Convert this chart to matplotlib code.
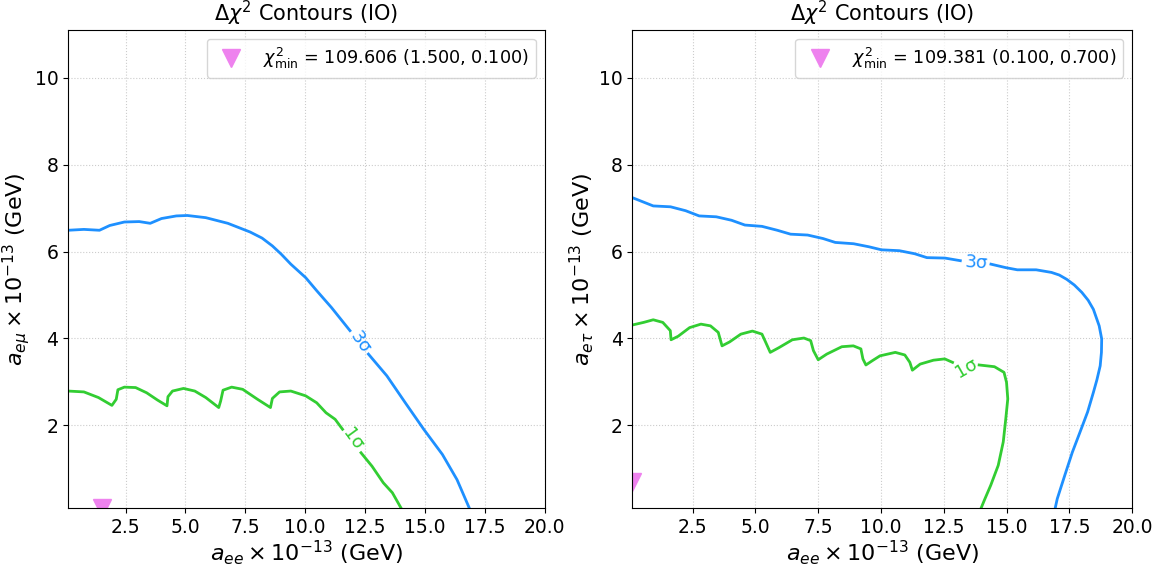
import numpy as np
import matplotlib
matplotlib.use("Agg")
import matplotlib.pyplot as plt

nan = np.nan
# ---------------- data (left panel: a_emu vs a_ee) ----------------
L3_x = [0.1, 0.76, 1.41, 1.84, 2.45, 3.07, 3.53, 4.0, 4.62, 5.08, 5.85, 6.77, 7.7, 8.2, 8.63, 9.0, 9.4, 10.02,
        10.48, 11.1, 11.87, nan, 12.64, 13.41, 14.18, 14.95, 15.73, 16.34, 16.85]
L3_y = [6.49, 6.51, 6.49, 6.6, 6.68, 6.69, 6.65, 6.76, 6.82, 6.83, 6.78, 6.65, 6.45, 6.31, 6.13, 5.94, 5.71, 5.4,
        5.1, 4.71, 4.18, nan, 3.64, 3.14, 2.52, 1.91, 1.33, 0.75, 0.1]
L1_x = [0.1, 0.76, 1.37, 1.93, 2.11, 2.18, 2.45, 2.92, 3.38, 3.84, 4.23, 4.27, 4.46, 4.92, 5.39, 5.85,
        6.39, 6.47, 6.57, 6.93, 7.39, 8.01, 8.55, 8.63, 8.93, 9.4, 10.02, 10.48, 10.87, 11.25, 11.56,
        nan, 12.33, 12.79, 13.26, 13.64, 14.0]
L1_y = [2.79, 2.77, 2.64, 2.46, 2.6, 2.82, 2.88, 2.87, 2.75, 2.58, 2.45, 2.66, 2.79, 2.85, 2.79, 2.64,
        2.41, 2.56, 2.81, 2.88, 2.83, 2.6, 2.41, 2.62, 2.77, 2.79, 2.68, 2.52, 2.29, 2.14, 1.91,
        nan, 1.37, 1.06, 0.68, 0.45, 0.1]
L_best = (1.5, 0.1)
L_chi2 = 109.606

# ---------------- data (right panel: a_etau vs a_ee) ----------------
R3_x = [0.1, 0.93, 1.62, 2.22, 2.76, 3.44, 4.05, 4.58, 5.26, 5.87, 6.4, 7.08, 7.69, 8.18, 8.91, 9.52,
        10.02, 10.73, 11.34, 11.83, 12.55, 13.16, nan, 14.38, 14.97, 15.43, 16.18, 16.79, 17.1, 17.4, 17.7, 18.0,
        18.25, 18.46, 18.69, 18.79, 18.78, 18.73, 18.6, 18.46, 18.23, 17.93, 17.62, 17.32, 17.02, 16.94]
R3_y = [7.24, 7.05, 7.03, 6.94, 6.82, 6.8, 6.72, 6.61, 6.58, 6.49, 6.4, 6.38, 6.3, 6.21, 6.18, 6.11,
        6.04, 6.02, 5.95, 5.86, 5.85, 5.79, nan, 5.71, 5.63, 5.58, 5.58, 5.52, 5.46, 5.36, 5.23, 5.06,
        4.88, 4.67, 4.29, 3.99, 3.68, 3.37, 3.05, 2.76, 2.31, 1.85, 1.38, 0.85, 0.31, 0.1]
R1_x = [0.1, 0.55, 0.93, 1.31, 1.61, 1.64, 1.92, 2.38, 2.83, 3.21, 3.52, 3.67, 3.97, 4.42, 4.88, 5.26,
        5.41, 5.59, 5.94, 6.47, 6.93, 7.2, 7.31, 7.5, 7.84, 8.44, 8.9, 9.2, 9.28, 9.4, 9.66, 9.96,
        10.57, 10.95, 11.15, 11.25, 11.56, 12.09, 12.54, 12.85, nan, 13.91, 14.52, 14.9, 15.0, 15.05,
        14.97, 14.87, 14.67, 14.37, 14.14, 13.99]
R1_y = [4.31, 4.37, 4.43, 4.37, 4.18, 3.97, 4.05, 4.25, 4.33, 4.29, 4.14, 3.83, 3.92, 4.1, 4.17, 4.1,
        3.91, 3.68, 3.79, 3.97, 4.01, 3.95, 3.72, 3.51, 3.64, 3.81, 3.83, 3.76, 3.53, 3.39, 3.49, 3.6,
        3.68, 3.62, 3.45, 3.27, 3.41, 3.5, 3.53, 3.45, nan, 3.39, 3.35, 3.22, 2.99, 2.61,
        2.15, 1.62, 1.08, 0.62, 0.31, 0.1]
R_best = (0.1, 0.7)
R_chi2 = 109.381

x_ticks = [2.5, 5.0, 7.5, 10.0, 12.5, 15.0, 17.5, 20.0]
y_ticks = [2, 4, 6, 8, 10]

BLUE = "#1E90FF"
GREEN = "#32CD32"

fig = plt.figure(figsize=(11.54, 5.65), dpi=100)
ax1 = fig.add_axes([0.059, 0.101, 0.413, 0.846])
ax2 = fig.add_axes([0.548, 0.101, 0.433, 0.846])

panels = [
    (ax1, L3_x, L3_y, L1_x, L1_y, L_best, L_chi2, r"$a_{e\mu} \times 10^{-13}$ (GeV)",
     (12.3, 3.9, -55), (12.0, 1.68, -54)),
    (ax2, R3_x, R3_y, R1_x, R1_y, R_best, R_chi2, r"$a_{e\tau} \times 10^{-13}$ (GeV)",
     (13.8, 5.75, -4), (13.4, 3.32, 30)),
]

for ax, x3, y3, x1, y1, best, chi2, ylab, lab3, lab1 in panels:
    ax.plot(x3, y3, color=BLUE, lw=2)
    ax.plot(x1, y1, color=GREEN, lw=2)
    ax.text(lab3[0], lab3[1], "3σ", color=BLUE, fontsize=13, rotation=lab3[2],
            ha="center", va="center", rotation_mode="anchor")
    ax.text(lab1[0], lab1[1], "1σ", color=GREEN, fontsize=13, rotation=lab1[2],
            ha="center", va="center", rotation_mode="anchor")
    ax.plot([best[0]], [best[1]], marker="v", color="violet", markersize=13, linestyle="none",
            label=r"$\chi^2_{\mathrm{min}}$ = %.3f (%.3f, %.3f)" % (chi2, best[0], best[1]))
    ax.set_xlim(0.1, 20)
    ax.set_ylim(0.1, 11.1)
    ax.set_xticks(x_ticks)
    ax.set_yticks(y_ticks)
    ax.tick_params(labelsize=13.5)
    ax.grid(True, linestyle=":", color="#cccccc", linewidth=0.8)
    ax.set_xlabel(r"$a_{ee} \times 10^{-13}$ (GeV)", fontsize=16, labelpad=1)
    ax.set_ylabel(ylab, fontsize=16, labelpad=2)
    ax.set_title(r"$\Delta\chi^2$ Contours (IO)", fontsize=15)
    ax.legend(loc="upper right", fontsize=12.7)

fig.savefig("out.png", dpi=100)
